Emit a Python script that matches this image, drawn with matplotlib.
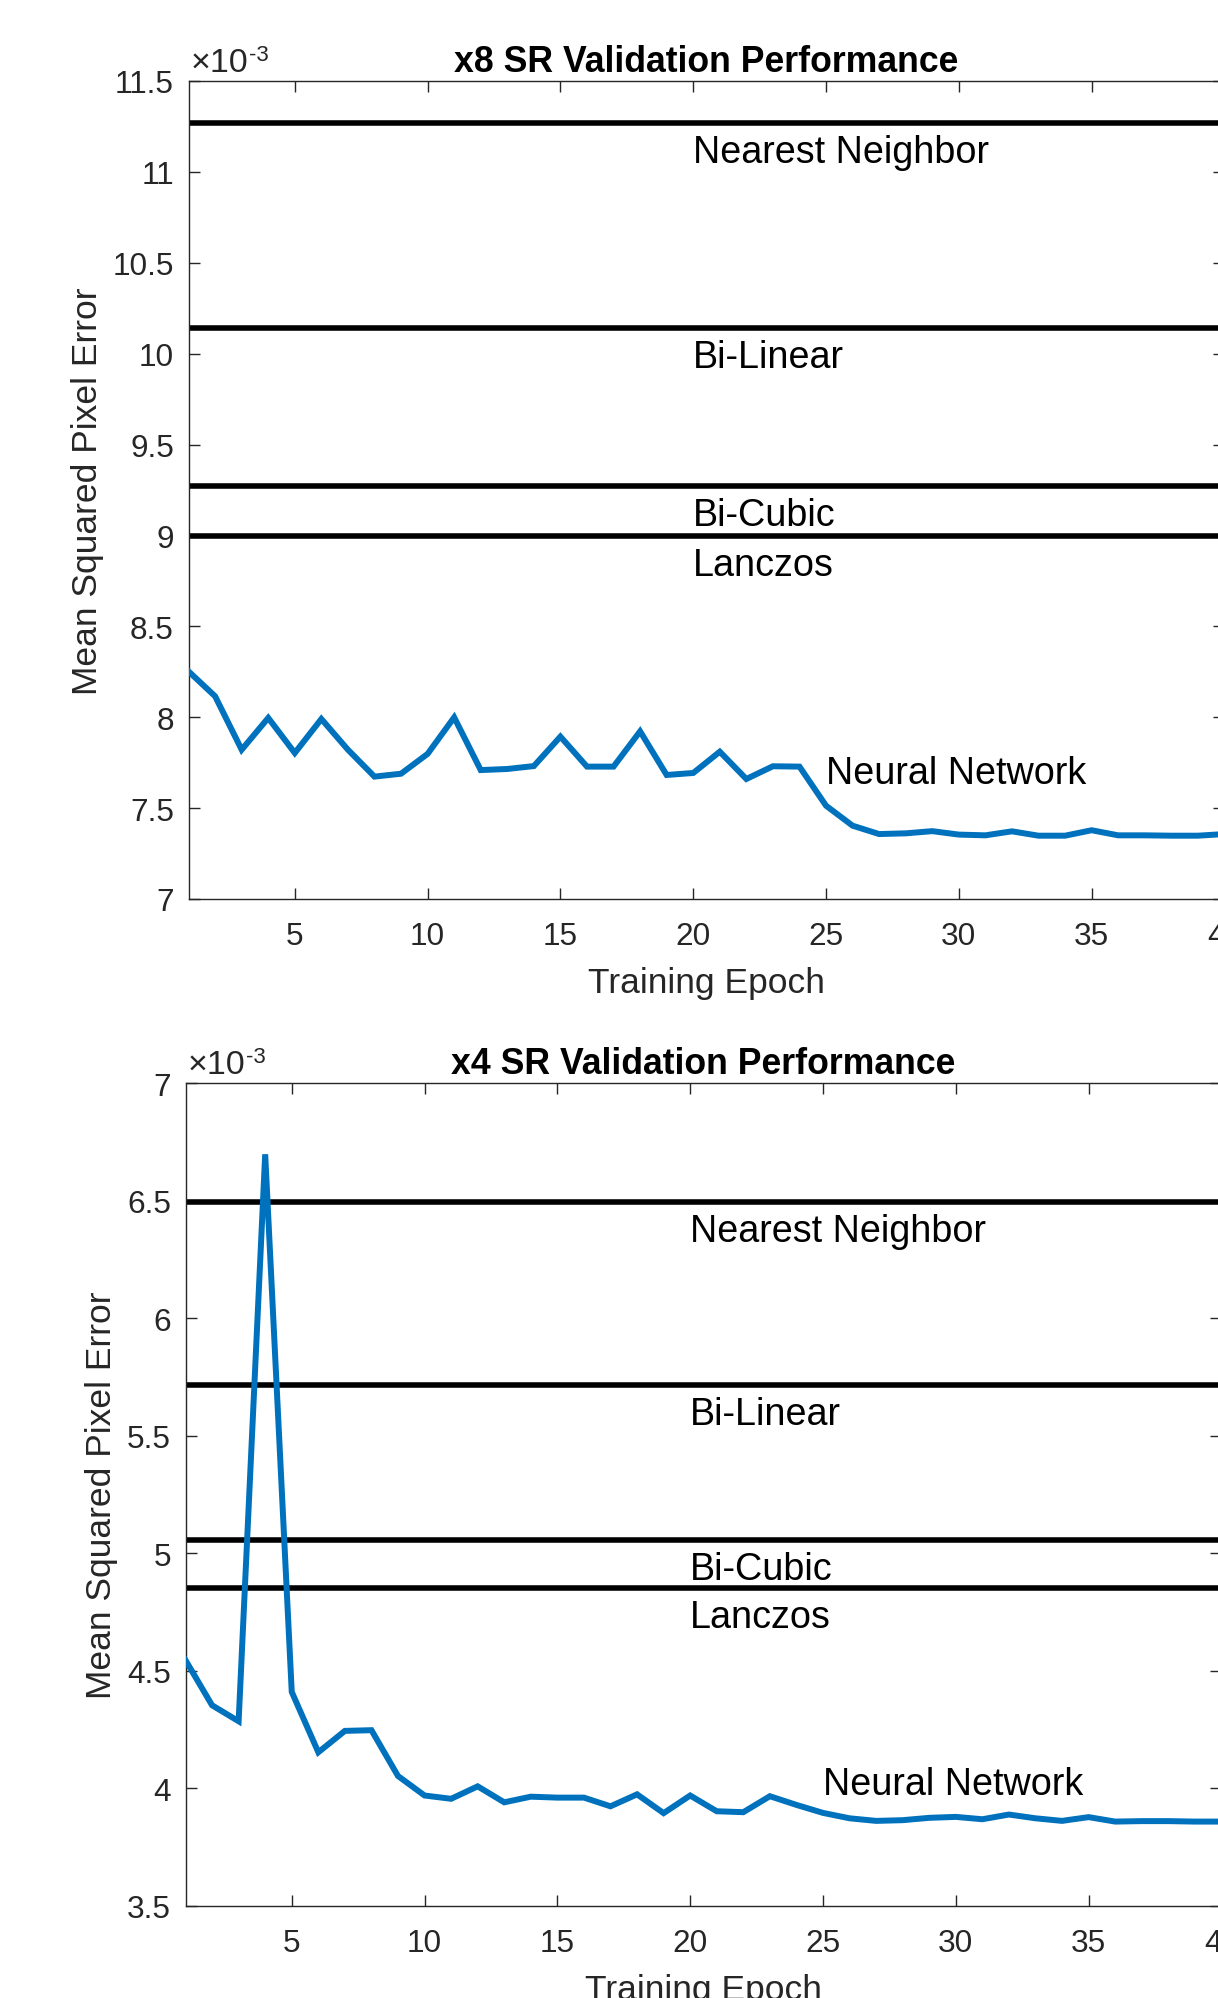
import numpy as np
import matplotlib
matplotlib.use('Agg')
import matplotlib.pyplot as plt
from matplotlib.ticker import FuncFormatter, MultipleLocator

plt.rcParams['font.family'] = ['Liberation Sans', 'DejaVu Sans']

# values are in units of 1e-3 (the axis shows "x10^-3")
epochs = np.arange(1, 41)

x8_network = [8.252, 8.115, 7.821, 7.996, 7.803, 7.990, 7.821, 7.673, 7.689, 7.798,
              7.999, 7.709, 7.715, 7.731, 7.893, 7.728, 7.728, 7.922, 7.682, 7.693,
              7.810, 7.660, 7.730, 7.728, 7.513, 7.403, 7.357, 7.361, 7.373, 7.354,
              7.350, 7.372, 7.348, 7.348, 7.378, 7.350, 7.350, 7.348, 7.348, 7.357]

x4_network = [4.545, 4.353, 4.285, 6.698, 4.410, 4.153, 4.244, 4.247, 4.052, 3.969,
              3.955, 4.008, 3.940, 3.964, 3.960, 3.960, 3.923, 3.974, 3.894, 3.969,
              3.902, 3.898, 3.966, 3.929, 3.895, 3.872, 3.861, 3.864, 3.874, 3.878,
              3.868, 3.888, 3.872, 3.861, 3.877, 3.858, 3.860, 3.860, 3.858, 3.858]

methods = ['Nearest Neighbor', 'Bi-Linear', 'Bi-Cubic', 'Lanczos']
x8_methods = [11.267, 10.143, 9.270, 8.996]
x4_methods = [6.494, 5.717, 5.058, 4.852]

AX_COLOR = '#262626'
BLUE = '#0072BD'


def draw_panel(ax, title, network, method_values, ylim, nn_label_y):
    ax.plot(epochs, network, color=BLUE, linewidth=4.3, solid_joinstyle='miter', zorder=3)
    for name, value in zip(methods, method_values):
        ax.axhline(value, color='black', linewidth=4, zorder=2)
        # label sits just under its line
        ax.annotate(name, xy=(20, value), xytext=(0, -39), textcoords='offset pixels',
                    ha='left', va='baseline', fontsize=27.2, color='black')
    ax.text(25, nn_label_y, 'Neural Network', ha='left', va='baseline',
            fontsize=27.2, color='black')

    ax.set_xlim(1, 40)
    ax.set_ylim(*ylim)
    ax.xaxis.set_major_locator(MultipleLocator(5))
    ax.yaxis.set_major_locator(MultipleLocator(0.5))
    ax.yaxis.set_major_formatter(FuncFormatter(lambda v, p: f'{v:g}'))

    ax.tick_params(axis='both', direction='in', length=8, width=1, color=AX_COLOR,
                   labelcolor=AX_COLOR, labelsize=22.7, top=True, right=True)
    ax.tick_params(axis='x', pad=16)
    ax.tick_params(axis='y', pad=10.5)
    for spine in ax.spines.values():
        spine.set_color(AX_COLOR)
        spine.set_linewidth(1)

    ax.set_title(title, fontsize=25.7, fontweight='bold', color='black', pad=7.5)
    ax.set_xlabel('Training Epoch', fontsize=25.5, color=AX_COLOR, labelpad=10.5)
    ax.set_ylabel('Mean Squared Pixel Error', fontsize=25.5, color=AX_COLOR)

    # MATLAB style exponent above the y axis
    t1 = ax.annotate('\u00d710', xy=(0, 1), xycoords='axes fraction', xytext=(2, 10),
                     textcoords='offset pixels', ha='left', va='baseline',
                     fontsize=24.5, color=AX_COLOR)
    ax.annotate('-3', xy=(1, 1), xycoords=t1, xytext=(1, 3), textcoords='offset pixels',
                ha='left', va='top', fontsize=16, color=AX_COLOR)


fig = plt.figure(figsize=(12.18, 19.99), dpi=100)

ax1 = fig.add_axes([0.1548, 0.5498, 0.8505, 0.4092])
draw_panel(ax1, 'x8 SR Validation Performance', x8_network, x8_methods, (7, 11.5), 7.638)
ax1.yaxis.set_label_coords(-0.0814, 0.5)

ax2 = fig.add_axes([0.1523, 0.04617, 0.8505, 0.4114])
draw_panel(ax2, 'x4 SR Validation Performance', x4_network, x4_methods, (3.5, 7), 3.976)
ax2.yaxis.set_label_coords(-0.0649, 0.5)

fig.savefig('out.png', dpi=100)
